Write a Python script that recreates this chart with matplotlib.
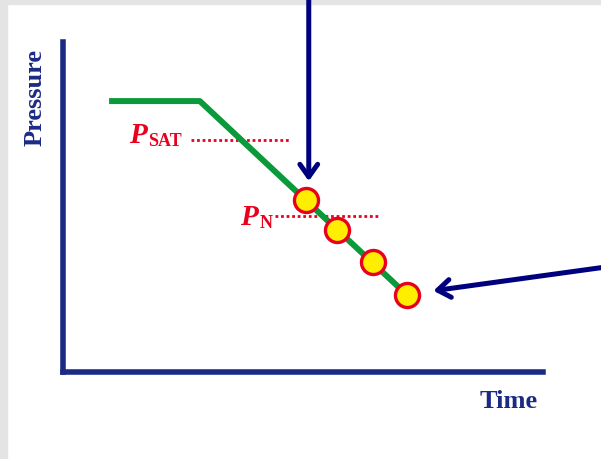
import matplotlib
matplotlib.use("Agg")
import matplotlib.pyplot as plt
from matplotlib.patches import Rectangle

# schematic data (arbitrary units: time 0-10, pressure 0-10)
curve_time = [0.96, 2.85, 7.17]
curve_pressure = [8.21, 8.21, 2.33]

sample_time = [5.06, 5.71, 6.46, 7.17]
sample_pressure = [5.22, 4.30, 3.32, 2.33]

psat_level = 7.03
psat_span = [2.67, 4.73]
pn_level = 4.74
pn_span = [4.42, 6.56]

navy = "#1b2a84"
arrow_navy = "#00007f"
red = "#e8001c"

fig = plt.figure(figsize=(6.01, 4.60), dpi=100)
fig.patch.set_facecolor("white")

# faint grey frame of the slide
fig.add_artist(Rectangle((0, 0), 7 / 601, 1, transform=fig.transFigure,
                         color="#e4e4e4", zorder=0))
fig.add_artist(Rectangle((0, 1 - 5 / 460), 1, 5 / 460, transform=fig.transFigure,
                         color="#e4e4e4", zorder=0))

ax = fig.add_axes([63 / 601, 87 / 460, 480 / 601, 330 / 460])
ax.set_xlim(0, 10)
ax.set_ylim(0, 10)
ax.set_facecolor("none")
for side in ["top", "right"]:
    ax.spines[side].set_visible(False)
for side in ["left", "bottom"]:
    ax.spines[side].set_color(navy)
    ax.spines[side].set_linewidth(4)
ax.set_xticks([])
ax.set_yticks([])

# pressure curve
ax.plot(curve_time, curve_pressure, color="#0a9a3a", lw=4.3,
        solid_capstyle="butt", zorder=3)

# reference pressure levels
ax.plot(psat_span, [psat_level] * 2, color=red, lw=2, ls=(0, (1, 1)), zorder=2)
ax.plot(pn_span, [pn_level] * 2, color=red, lw=2, ls=(0, (1, 1)), zorder=2)

# samples
ax.scatter(sample_time, sample_pressure, s=300, facecolor="#ffee00",
           edgecolor=red, linewidth=2.4, zorder=4, clip_on=False)

# labels for the levels: italic P with an upright subscript
serif = "Liberation Serif"
ax.text(1.75, psat_level - 0.06, "P", color=red, fontsize=21,
        family=serif, weight="bold", style="italic", ha="right", va="baseline")
ax.text(1.78, psat_level - 0.15, "SAT", color=red, fontsize=13,
        family=serif, weight="bold", ha="left", va="baseline")
ax.text(4.06, pn_level - 0.26, "P", color=red, fontsize=21,
        family=serif, weight="bold", style="italic", ha="right", va="baseline")
ax.text(4.09, pn_level - 0.35, "N", color=red, fontsize=13,
        family=serif, weight="bold", ha="left", va="baseline")

# arrows pointing at the samples
arrow_style = dict(arrowstyle="->,head_length=0.45,head_width=0.32",
                   color=arrow_navy, lw=3.6, mutation_scale=20)
ax.annotate("", xy=(5.12, 5.70), xytext=(5.12, 11.4),
            arrowprops=arrow_style, annotation_clip=False)
ax.annotate("", xy=(7.66, 2.45), xytext=(11.3, 3.18),
            arrowprops=arrow_style, annotation_clip=False)

# axis titles
fig.text(35 / 601, 1 - 98 / 460, "Pressure", rotation=90, color=navy,
         fontsize=19, family=serif, weight="bold", ha="center", va="center")
fig.text(509 / 601, 1 - 402 / 460, "Time", color=navy,
         fontsize=19, family=serif, weight="bold", ha="center", va="center")

fig.savefig("out.png", dpi=100)
